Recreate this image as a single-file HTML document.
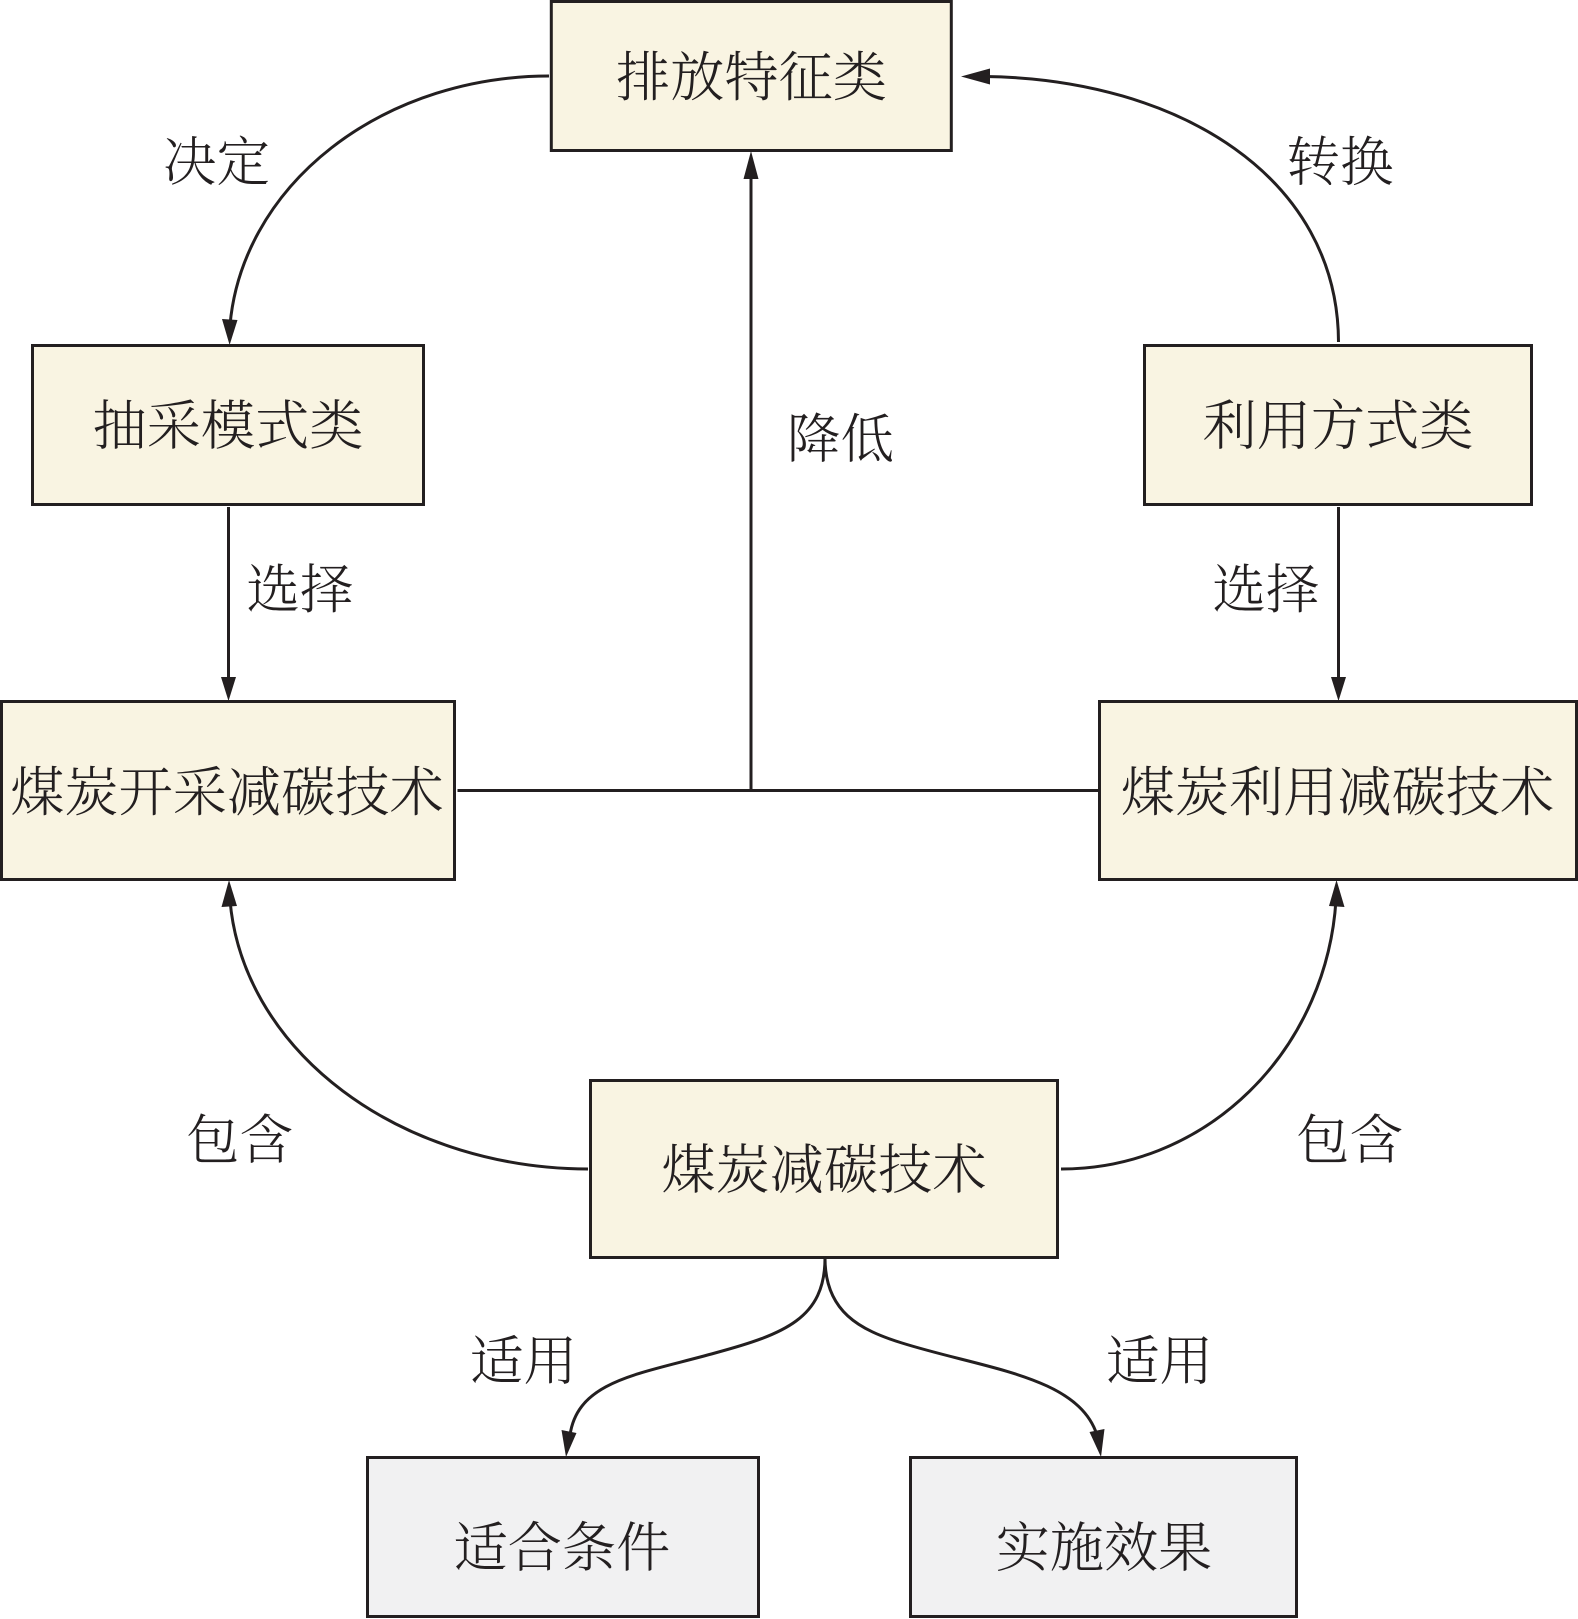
<!DOCTYPE html>
<html lang="zh-CN">
<head>
<meta charset="utf-8">
<title>煤炭减碳技术</title>
<style>
html,body{margin:0;padding:0;background:#fff;}
svg{display:block;}
text{font-family:"Liberation Serif","Noto Serif CJK SC",serif;fill:#231f20;text-anchor:middle;dominant-baseline:central;font-weight:300;}
.n{font-size:54.2px;}
.l{font-size:53.5px;}
</style>
</head>
<body>
<svg width="1578" height="1619" viewBox="0 0 1578 1619" xmlns="http://www.w3.org/2000/svg">
<g fill="#f9f4e2" stroke="#231f20" stroke-width="3">
<rect x="551.3" y="1.5" width="400" height="149"/>
<rect x="32.5" y="345.5" width="391" height="159"/>
<rect x="1144.5" y="345.5" width="387" height="159"/>
<rect x="1.5" y="701.5" width="453" height="178"/>
<rect x="1099.5" y="701.5" width="477" height="178"/>
<rect x="590.5" y="1080.5" width="467" height="177"/>
</g>
<g fill="#f1f1f2" stroke="#231f20" stroke-width="3">
<rect x="367.5" y="1457.5" width="391" height="159"/>
<rect x="910.5" y="1457.5" width="386" height="159"/>
</g>
<g fill="none" stroke="#231f20" stroke-width="3">
<path d="M549 76 A320 269 0 0 0 230 325"/>
<path d="M1338.5 342 C1338 178 1180 79 985 76.5"/>
<path d="M588 1169 A360 288 0 0 1 230 900"/>
<path d="M1061 1169 A275 288 0 0 0 1336 900"/>
<path d="M228.5 507 V680"/>
<path d="M1338.5 507 V680"/>
<path d="M457.5 790.5 H1098"/>
<path d="M751 790.5 V175"/>
<path d="M825 1258 C825 1318 785 1334 715 1353 C640 1374 578 1380 570 1435"/>
<path d="M825 1258 C825 1312 860 1330 902 1343 C985 1369 1078 1376 1097 1435"/>
</g>
<g fill="#231f20">
<polygon points="229.6,345 222,319 237.5,320"/>
<polygon points="961,76.5 990,68.5 990,84.5"/>
<polygon points="229,880 221.5,907 237,906"/>
<polygon points="1336.5,880 1329,906 1344.5,907"/>
<polygon points="228.5,701 221,677 236,677"/>
<polygon points="1338.5,701 1331,677 1346,677"/>
<polygon points="751,151 743.5,179 758.5,179"/>
<polygon points="566,1457 561.5,1430 576.5,1433"/>
<polygon points="1101,1457 1089.5,1432 1104.5,1429"/>
</g>
<text class="n" x="751.5" y="78">排放特征类</text>
<text class="n" x="228" y="426.5">抽采模式类</text>
<text class="n" x="1338" y="426.5">利用方式类</text>
<text class="n" x="227" y="793">煤炭开采减碳技术</text>
<text class="n" x="1337.5" y="793">煤炭利用减碳技术</text>
<text class="n" x="824" y="1170.5">煤炭减碳技术</text>
<text class="n" x="562" y="1548.5">适合条件</text>
<text class="n" x="1104" y="1548.5">实施效果</text>
<text class="l" x="216.5" y="162.5">决定</text>
<text class="l" x="1340" y="162.5">转换</text>
<text class="l" x="840.5" y="439.5">降低</text>
<text class="l" x="300" y="590">选择</text>
<text class="l" x="1266" y="590">选择</text>
<text class="l" x="239.5" y="1140.5">包含</text>
<text class="l" x="1349.5" y="1140.5">包含</text>
<text class="l" x="523.5" y="1361.5">适用</text>
<text class="l" x="1159.5" y="1361.5">适用</text>
</svg>
</body>
</html>
